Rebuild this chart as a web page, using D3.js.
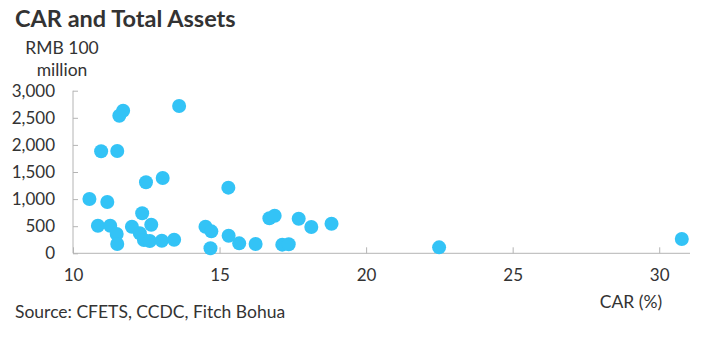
<!DOCTYPE html>
<html>
<head>
<meta charset="utf-8">
<script src="https://cdn.jsdelivr.net/npm/d3@7"></script>
<style>
  html, body { margin: 0; padding: 0; background: #fff; }
  svg { display: block; font-family: Lato, "Open Sans", sans-serif; }
</style>
</head>
<body>
<svg id="chart" width="707" height="338"></svg>
<script>
// Capital adequacy ratio (%) of each institution
const car = [
  13.62, 11.71, 11.58, 10.96, 11.51, 12.49, 13.06, 10.56, 11.17, 15.30,
  12.36, 10.85, 11.27, 11.49, 11.51, 12.01, 12.67, 12.28, 12.42, 12.62,
  13.03, 13.45, 14.52, 14.72, 14.69, 15.31, 15.67, 16.23, 16.70, 16.88,
  17.14, 17.36, 17.70, 18.13, 18.82, 22.49, 30.77
];
// Total assets (RMB 100 million), same order as car
const totalAssets = [
  2718, 2631, 2539, 1882, 1887, 1310, 1389, 1002, 946, 1211,
  738, 509, 509, 356, 172, 491, 528, 369, 245, 227,
  232, 251, 491, 405, 92, 325, 184, 172, 646, 694,
  160, 166, 638, 485, 546, 110, 264
];
const xTicks = [10, 15, 20, 25, 30];
const yTicks = [0, 500, 1000, 1500, 2000, 2500, 3000];

const points = car.map((c, i) => ({ car: c, assets: totalAssets[i] }));

const svg = d3.select("#chart");
const textColor = "#333333";
const axisColor = "#b4b4b4";
const dotColor = "#33c3f6";

const x = d3.scaleLinear().domain([10, 31.05]).range([73, 690]);
const y = d3.scaleLinear().domain([0, 3000]).range([253.3, 90.7]);

// Title
svg.append("text")
  .attr("x", 15).attr("y", 27)
  .attr("font-size", 23.5).attr("font-weight", 700)
  .attr("fill", textColor)
  .text("CAR and Total Assets");

// Y unit label
const yTitle = svg.append("text")
  .attr("text-anchor", "middle")
  .attr("font-size", 17.5)
  .attr("fill", textColor);
yTitle.append("tspan").attr("x", 62).attr("y", 54).text("RMB 100");
yTitle.append("tspan").attr("x", 62).attr("y", 76).text("million");

// Y axis
const yAxis = svg.append("g")
  .attr("transform", `translate(${x.range()[0]},0)`)
  .call(d3.axisLeft(y).tickValues(yTicks).tickSize(-5).tickPadding(18)
    .tickFormat(d3.format(",")));
yAxis.select(".domain").attr("stroke", axisColor).attr("d", `M0,${y(3000)}V${y(0)}`);
yAxis.selectAll(".tick line").attr("stroke", axisColor);
yAxis.selectAll(".tick text").attr("fill", textColor).attr("font-size", 17)
  .attr("font-family", "Lato, 'Open Sans', sans-serif");

// X axis
const xAxis = svg.append("g")
  .attr("transform", `translate(0,${y.range()[0]})`)
  .call(d3.axisBottom(x).tickValues(xTicks).tickSize(-6).tickPadding(16));
xAxis.select(".domain").attr("stroke", axisColor).attr("d", `M${x.range()[0]},0H${x.range()[1]}`);
xAxis.selectAll(".tick line").attr("stroke", axisColor);
xAxis.selectAll(".tick text").attr("fill", textColor).attr("font-size", 17)
  .attr("font-family", "Lato, 'Open Sans', sans-serif");

// X axis title
svg.append("text")
  .attr("x", 631).attr("y", 308)
  .attr("text-anchor", "middle")
  .attr("font-size", 17.5)
  .attr("fill", textColor)
  .text("CAR (%)");

// Dots
svg.append("g")
  .selectAll("circle")
  .data(points)
  .join("circle")
  .attr("cx", d => x(d.car))
  .attr("cy", d => y(d.assets))
  .attr("r", 7)
  .attr("fill", dotColor);

// Source note
svg.append("text")
  .attr("x", 15).attr("y", 318)
  .attr("font-size", 17.5)
  .attr("fill", textColor)
  .text("Source: CFETS, CCDC, Fitch Bohua");
</script>
</body>
</html>
